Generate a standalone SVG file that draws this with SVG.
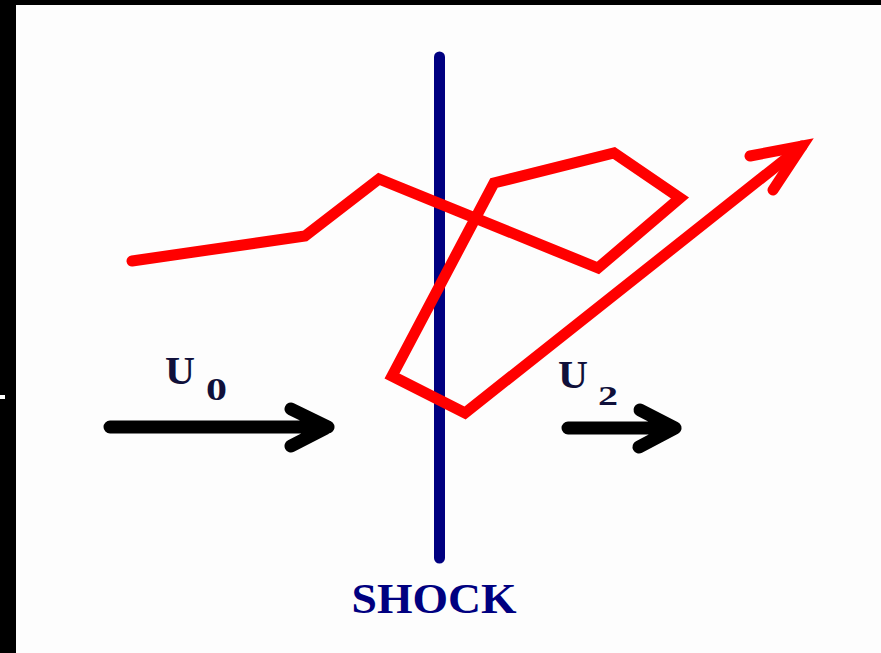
<svg xmlns="http://www.w3.org/2000/svg" width="881" height="653" viewBox="0 0 881 653">
<style>
.red{fill:none;stroke:#ff0000;stroke-width:11;stroke-linejoin:miter;stroke-linecap:round}
.blk{fill:none;stroke:#000;stroke-width:13;stroke-linecap:round;stroke-linejoin:round}
.lbl{font-family:"Liberation Serif","Times New Roman",serif;fill:#10103a;font-weight:bold}
</style>
<rect x="0" y="0" width="881" height="653" fill="#fdfdfd"/>
<rect x="0" y="0" width="881" height="5" fill="#000"/>
<rect x="0" y="0" width="16" height="653" fill="#000"/>
<rect x="0" y="395" width="5" height="4" fill="#fff"/>
<g id="shock">
<line x1="439.5" y1="57" x2="439.5" y2="558" stroke="#000080" stroke-width="11" stroke-linecap="round"/>
<text x="434" y="613" text-anchor="middle" font-family="Liberation Serif,serif" font-weight="bold" font-size="43" fill="#000080" textLength="165" lengthAdjust="spacingAndGlyphs">SHOCK</text>
</g>
<g id="connectors">
<path class="red" d="M132,261 L305,236 L379,179 L598,268 L680,198 L614,153 L494,183 L392,376 L465,413 L802,146"/>
<path class="red" d="M750,156 L802,146 L773,190"/>
<path class="blk" d="M110,427 L328,427 M291,409 L328,427 L291,446"/>
<path class="blk" d="M568,428 L675,428 M640,410 L675,428 L639,447"/>
</g>
<g id="u0">
<text class="lbl" x="165" y="384" font-size="40" textLength="30" lengthAdjust="spacingAndGlyphs">U</text>
<text class="lbl" x="206" y="400" font-size="32" textLength="21" lengthAdjust="spacingAndGlyphs">0</text>
</g>
<g id="u2">
<text class="lbl" x="558" y="388" font-size="40" textLength="30" lengthAdjust="spacingAndGlyphs">U</text>
<text class="lbl" x="598" y="405" font-size="27" textLength="20" lengthAdjust="spacingAndGlyphs">2</text>
</g>
</svg>
